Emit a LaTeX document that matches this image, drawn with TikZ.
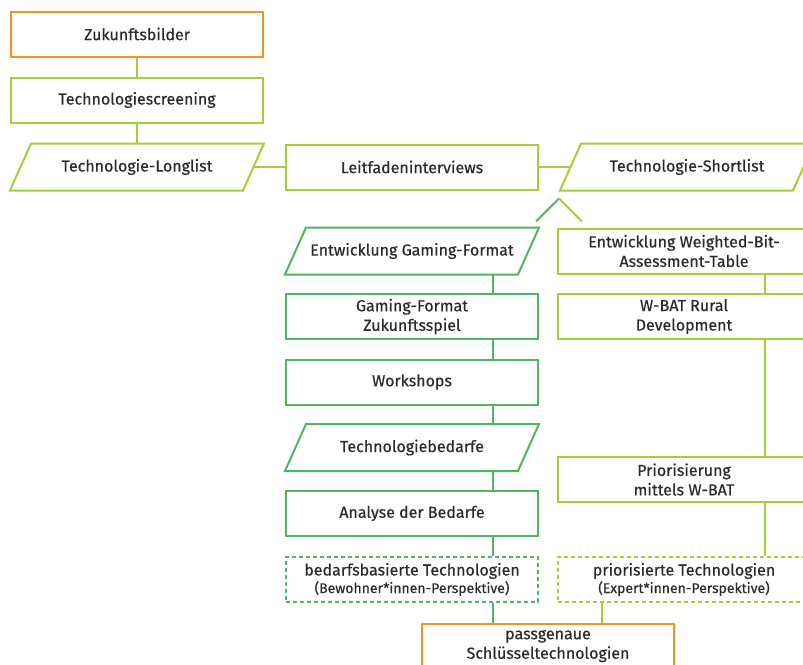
\documentclass[tikz,border=0pt]{standalone}
\usepackage{fontspec}
\setmainfont{Fira Sans}[FakeBold=0.4, UprightFeatures={FakeBold=0.4}]
\usetikzlibrary{calc}
\definecolor{cOrange}{HTML}{F6921E}
\definecolor{cLime}{HTML}{A6CE39}
\definecolor{cGreen}{HTML}{4CB75E}
\definecolor{cText}{HTML}{2A2A2A}
\begin{document}
\begin{tikzpicture}[x=1pt,y=-1pt,
  base/.style={line width=2pt, minimum height=45pt, minimum width=252pt, inner sep=0pt,
    align=center, rectangle, text=cText, font=\fontsize{16}{19.5}\selectfont},
  box/.style={base, draw},
  pnode/.style={base},
  dbox/.style={box, dash pattern=on 4pt off 3pt},
  link/.style={line width=2pt},
  parashape/.style={line width=2pt, line join=miter}
]
\path[use as bounding box, clip] (0,0) rectangle (803,664);

% left top column
\node[box, draw=cOrange] (zb) at (137,34) {Zukunftsbilder};
\node[box, draw=cLime] (ts) at (137,100) {Technologiescreening};
\node[pnode] (ll) at (137,167) {Technologie-Longlist};
\node[box, draw=cLime] (lf) at (412,167) {Leitfadeninterviews};
\node[pnode] (sl) at (687,167) {Technologie-Shortlist};

% left branch
\node[pnode] (ge) at (412,251) {Entwicklung Gaming-Format};
\node[box, draw=cGreen] (gz) at (412,316.5) {Gaming-Format\\Zukunftsspiel};
\node[box, draw=cGreen] (ws) at (412,382) {Workshops};
\node[pnode] (tb) at (412,447.5) {Technologiebedarfe};
\node[box, draw=cGreen] (ab) at (412,513.5) {Analyse der Bedarfe};
\node[dbox, draw=cGreen, font=\fontsize{16}{17.5}\selectfont] (bt) at (412,579.5) {bedarfsbasierte Technologien\\{\fontsize{14}{16}\selectfont (Bewohner*innen-Perspektive)}};

% right branch
\node[box, draw=cLime] (wb) at (684,251) {Entwicklung Weighted-Bit-\\Assessment-Table};
\node[box, draw=cLime] (wr) at (684,316.5) {W-BAT Rural\\Development};
\node[box, draw=cLime] (pr) at (684,479.5) {Priorisierung\\mittels W-BAT};
\node[dbox, draw=cLime, font=\fontsize{16}{17.5}\selectfont] (pt) at (684,579.5) {priorisierte Technologien\\{\fontsize{14}{16}\selectfont (Expert*innen-Perspektive)}};

% result
\node[box, draw=cOrange] (pg) at (548,646) {passgenaue\\Schlüsseltechnologien};

% parallelogram outlines
\foreach \n/\c in {ll/cLime, sl/cLime, ge/cGreen, tb/cGreen}{
  \draw[parashape, \c] (\n.south west) -- ($(\n.south east)+(-21,0)$) -- (\n.north east)
    -- ($(\n.north west)+(21,0)$) -- cycle;
}

% helper coordinates
\coordinate (lx) at (493,0);
\coordinate (rx) at (765,0);
\coordinate (px) at (602,0);
\coordinate (peak) at ($(sl.south west)+(-1,8)$);
\coordinate (legL) at ($(peak)+(-23,23)$);
\coordinate (legR) at ($(peak)+(23,23)$);

% connectors
\draw[link, cLime] (zb) -- (ts);
\draw[link, cLime] (ts) -- (ll);
\draw[link, cLime] ($(ll.east)+(-10.5,0)$) -- (lf.west);
\draw[link, cLime] (lf.east) -- ($(sl.west)+(10.5,0)$);
\draw[link, cGreen] (peak) -- (legL);
\draw[link, cLime] (peak) -- (legR);

\draw[link, cGreen] (ge.south -| lx) -- (gz.north -| lx);
\draw[link, cGreen] (gz.south -| lx) -- (ws.north -| lx);
\draw[link, cGreen] (ws.south -| lx) -- (tb.north -| lx);
\draw[link, cGreen] (tb.south -| lx) -- (ab.north -| lx);
\draw[link, cGreen] (ab.south -| lx) -- (bt.north -| lx);
\draw[link, cGreen] (bt.south -| lx) -- (pg.north -| lx);

\draw[link, cLime] (wb.south -| rx) -- (wr.north -| rx);
\draw[link, cLime] (wr.south -| rx) -- (pr.north -| rx);
\draw[link, cLime] (pr.south -| rx) -- (pt.north -| rx);
\draw[link, cLime] (pt.south -| px) -- (pg.north -| px);
\end{tikzpicture}
\end{document}
